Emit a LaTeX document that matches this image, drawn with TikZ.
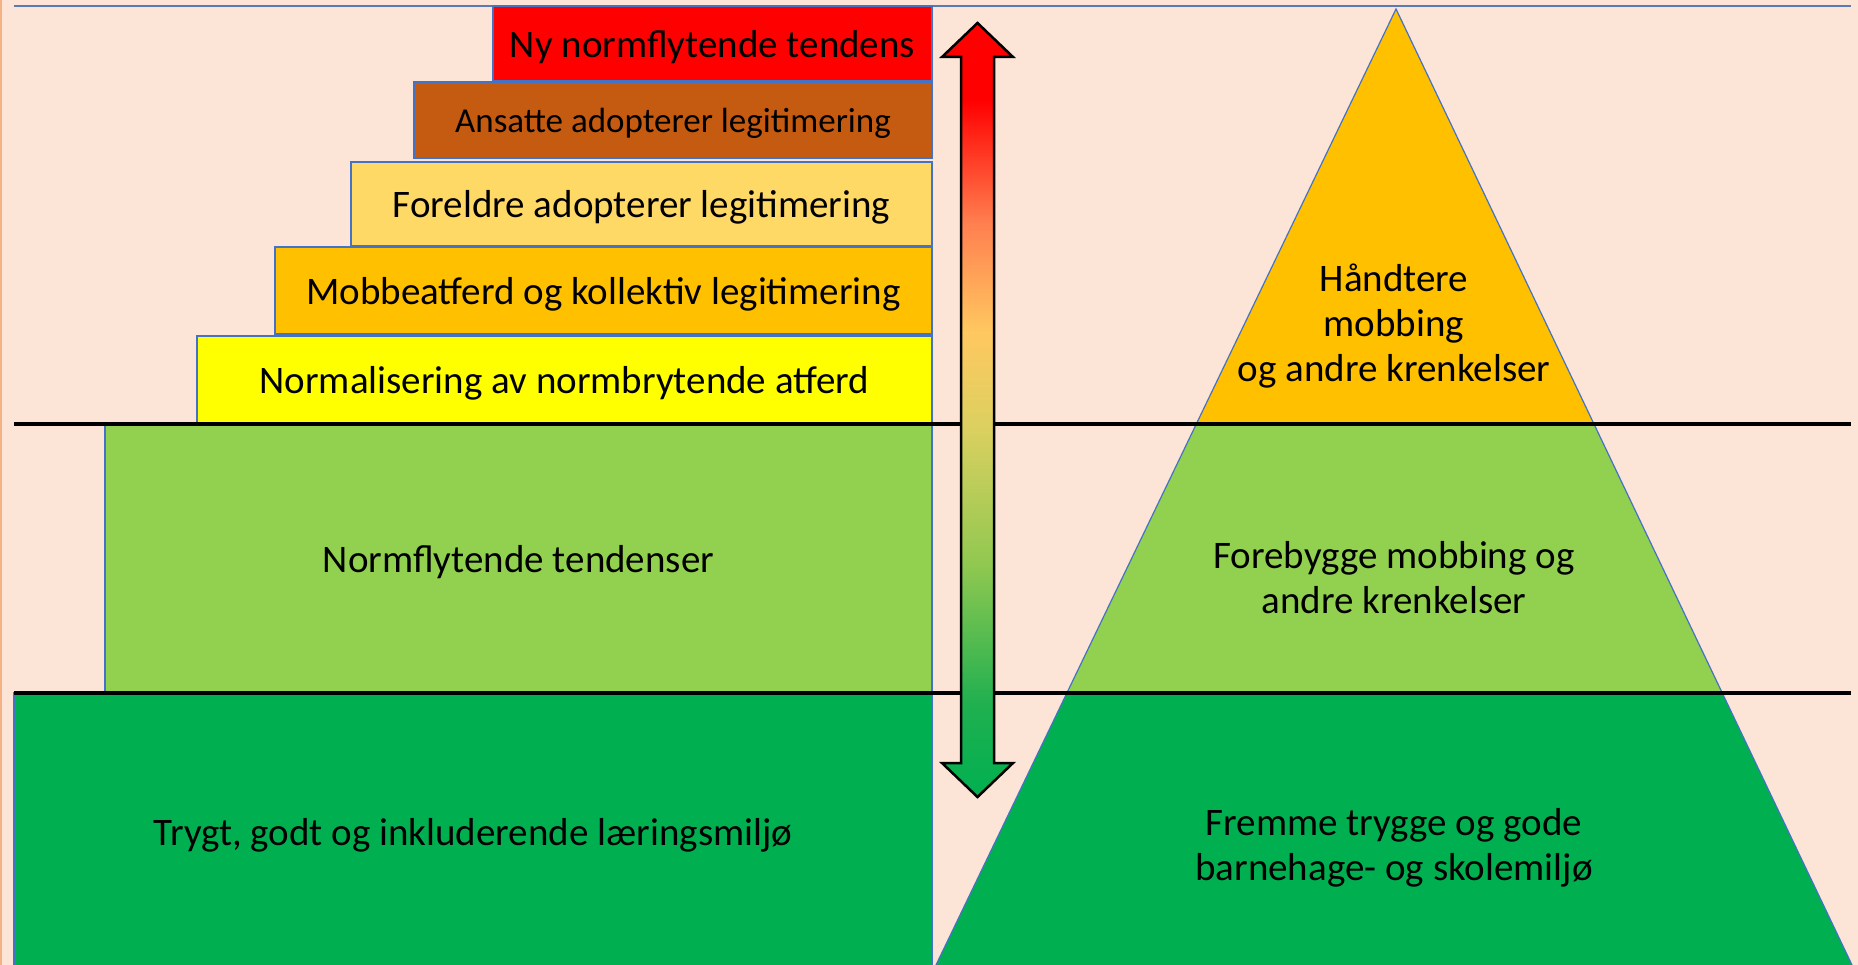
\documentclass[tikz,border=0pt]{standalone}
\usepackage{fontspec}
\setmainfont{Carlito}
\usetikzlibrary{calc}
\definecolor{bg}{HTML}{FCE4D6}
\definecolor{edgeor}{HTML}{F4B183}
\definecolor{boxblue}{HTML}{4472C4}
\definecolor{topblue}{HTML}{5B7BB5}
\definecolor{cred}{HTML}{FF0000}
\definecolor{cbrown}{HTML}{C55A11}
\definecolor{clyellow}{HTML}{FFD966}
\definecolor{corange}{HTML}{FFC000}
\definecolor{cyellow}{HTML}{FFFF00}
\definecolor{clgreen}{HTML}{92D050}
\definecolor{cdgreen}{HTML}{00B050}
\definecolor{sA}{HTML}{20B050}
\definecolor{sB}{HTML}{90C850}
\definecolor{sC}{HTML}{DCD060}
\definecolor{sD}{HTML}{FFC860}
\definecolor{sE}{HTML}{FF8050}
\pgfdeclareverticalshading{arrowshade}{100bp}{color(0bp)=(cdgreen); color(25bp)=(cdgreen); color(31bp)=(sA); color(40bp)=(sB); color(49bp)=(sC); color(55bp)=(sD); color(62bp)=(sE); color(70bp)=(cred); color(100bp)=(cred)}
\tikzset{
  stepbox/.style={draw=boxblue, line width=1.2pt, inner sep=0pt, align=center, text=black, text depth=0pt, font=\fontsize{39}{45}\selectfont},
  tritext/.style={inner sep=0pt, align=center, text=black, font=\fontsize{39}{45}\selectfont},
  sepline/.style={draw=black, line width=4pt},
  triedge/.style={draw=boxblue, line width=1.2pt}
}
\begin{document}
\begin{tikzpicture}[x=1pt,y=-1pt]
\useasboundingbox (0,0) rectangle (1858,965);
\fill[bg] (0,0) rectangle (1858,965);
\fill[edgeor] (0,0) rectangle (1.5,965);
% top line
\coordinate (ta) at (14,6);
\coordinate (tb) at (1851,6);
\draw[topblue, line width=2.5pt] (ta) -- (tb);
% left stairs
\node[stepbox, fill=cdgreen, minimum width=918pt, minimum height=278pt] (dg) at (473,832) {Trygt, godt og inkluderende læringsmiljø};
\node[stepbox, fill=clgreen, minimum width=827pt, minimum height=269pt] (lg) at (518.5,558.5) {Normflytende tendenser};
\node[stepbox, fill=cyellow, minimum width=735pt, minimum height=87pt] (ye) at (564.5,379.5) {Normalisering av normbrytende atferd};
\node[stepbox, fill=corange, minimum width=657pt, minimum height=87pt] (or) at (603.5,290.5) {Mobbeatferd og kollektiv legitimering};
\node[stepbox, fill=clyellow, minimum width=581pt, minimum height=84pt] (ly) at (641.5,204) {Foreldre adopterer legitimering};
\node[stepbox, fill=cbrown, minimum width=518pt, minimum height=76pt, font=\fontsize{35}{41}\selectfont] (br) at (673,120) {Ansatte adopterer legitimering};
\node[stepbox, fill=cred, minimum width=439pt, minimum height=75pt] (ny) at (712.5,43.5) {Ny normflytende tendens};
% triangle
\coordinate (apex) at (1396,9);
\coordinate (bl) at (936,965);
\coordinate (brr) at (1852,965);
\coordinate (l1) at ($(apex)!0.4341!(bl)$);
\coordinate (r1) at ($(apex)!0.4341!(brr)$);
\coordinate (l2) at ($(apex)!0.7155!(bl)$);
\coordinate (r2) at ($(apex)!0.7155!(brr)$);
\fill[corange] (apex) -- (r1) -- (l1) -- cycle;
\fill[clgreen] (l1) -- (r1) -- (r2) -- (l2) -- cycle;
\fill[cdgreen] (l2) -- (r2) -- (brr) -- (bl) -- cycle;
\draw[triedge] (bl) -- (apex) -- (brr);
\node[tritext] (t1) at (1394,326) {Håndtere\\mobbing\\og andre krenkelser};
\node[tritext] (t2) at (1394,577.5) {Forebygge mobbing og\\andre krenkelser};
\node[tritext] (t3) at (1394,847.5) {Fremme trygge og gode\\barnehage- og skolemiljø};
% separator lines
\coordinate (s1a) at (14,424);
\coordinate (s1b) at (1851,424);
\coordinate (s2a) at (14,693);
\coordinate (s2b) at (1851,693);
\draw[sepline] (s1a) -- (s1b);
\draw[sepline] (s2a) -- (s2b);
% double arrow
\shadedraw[shading=arrowshade, draw=black, line width=2.5pt, line join=miter]
  (977.5,23) -- (1013,57) -- (994,57) -- (994,763) -- (1013,763) -- (977.5,797)
  -- (942,763) -- (961,763) -- (961,57) -- (942,57) -- cycle;
\end{tikzpicture}
\end{document}
